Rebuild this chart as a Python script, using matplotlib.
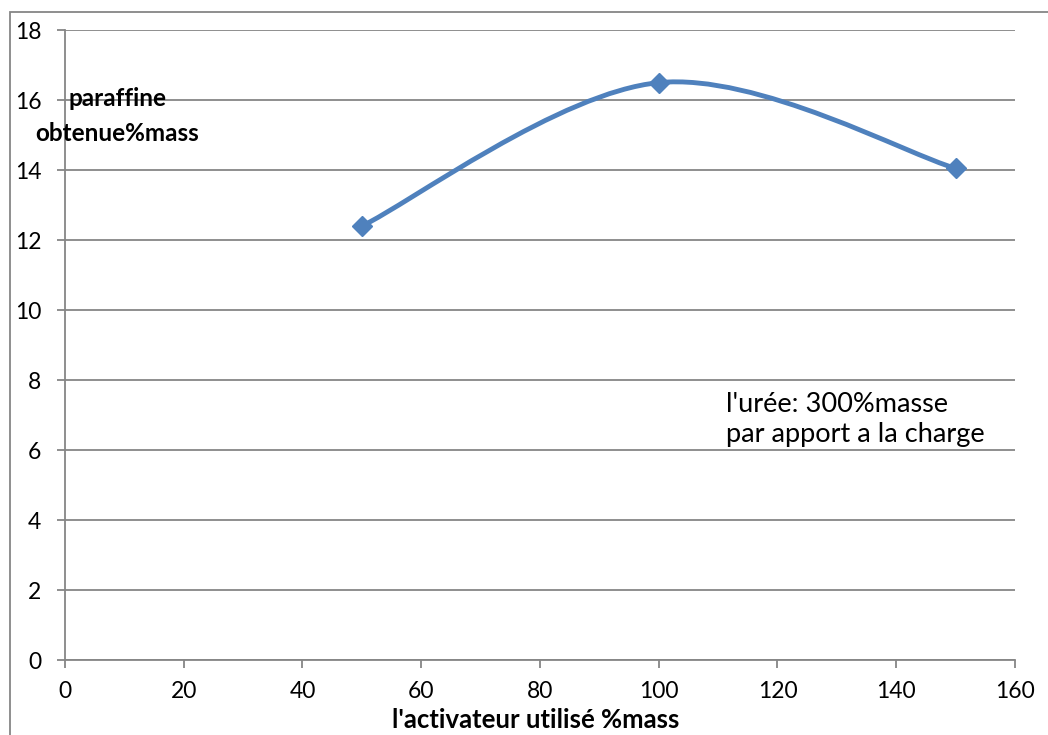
import matplotlib
matplotlib.use("Agg")
import matplotlib.pyplot as plt
from matplotlib.path import Path
from matplotlib.patches import PathPatch, Rectangle

# data
activateur = [50, 100, 150]
paraffine = [12.4, 16.5, 14.05]
xticks = [0, 20, 40, 60, 80, 100, 120, 140, 160]
yticks = [0, 2, 4, 6, 8, 10, 12, 14, 16, 18]

plt.rcParams['font.family'] = ['Lato', 'DejaVu Sans']
blue = '#4F81BD'
grey = '#868686'

fig = plt.figure(figsize=(10.48, 7.35), dpi=100)
ax = fig.add_axes([0.062, 0.102, 0.9065, 0.857])

# excel-style smoothed line: cubic bezier segments through the points
pts = list(zip(activateur, paraffine))
verts = [pts[0]]
codes = [Path.MOVETO]
for i in range(len(pts) - 1):
    p0 = pts[max(i - 1, 0)]
    p1 = pts[i]
    p2 = pts[i + 1]
    p3 = pts[min(i + 2, len(pts) - 1)]
    c1 = (p1[0] + (p2[0] - p0[0]) / 6, p1[1] + (p2[1] - p0[1]) / 6)
    c2 = (p2[0] - (p3[0] - p1[0]) / 6, p2[1] - (p3[1] - p1[1]) / 6)
    verts += [c1, c2, p2]
    codes += [Path.CURVE4] * 3
ax.add_patch(PathPatch(Path(verts, codes), fill=False, edgecolor=blue,
                       lw=3.5, capstyle='round', joinstyle='round', zorder=3))
ax.plot(activateur, paraffine, ls='none', marker='D', ms=10.5, color=blue, zorder=4)

ax.set_xlim(0, 160)
ax.set_ylim(0, 18)
ax.set_xticks(xticks)
ax.set_yticks(yticks)
ax.yaxis.grid(True, color=grey, lw=1.3)
ax.set_axisbelow(True)
for s in ['top', 'right']:
    ax.spines[s].set_visible(False)
for s in ['left', 'bottom']:
    ax.spines[s].set_color(grey)
    ax.spines[s].set_linewidth(1.3)
ax.tick_params(axis='both', colors=grey, length=6, width=1.3, labelsize=16.5,
               labelcolor='black')
ax.tick_params(axis='y', pad=11)
ax.tick_params(axis='x', pad=9)

# y label drawn as two lines, as in the original
fig.text(0.112, 0.866, "paraffine", ha='center', va='center',
         fontsize=17.5, fontweight='bold')
fig.text(0.112, 0.819, "obtenue%mass", ha='center', va='center',
         fontsize=17.5, fontweight='bold')
fig.text(0.511, 0.02, "l'activateur utilisé %mass", ha='center', va='center',
         fontsize=18.5, fontweight='bold')
ax.text(111.3, 6.86, "l'urée: 300%masse\npar apport a la charge", ha='left',
        va='center', fontsize=19.5, linespacing=1.25)

fig.patches.append(Rectangle((0.0095, -0.2), 1.5, 0.984 + 0.2,
                             transform=fig.transFigure, fill=False,
                             edgecolor=grey, lw=1.3))

fig.savefig("out.png", dpi=100)
